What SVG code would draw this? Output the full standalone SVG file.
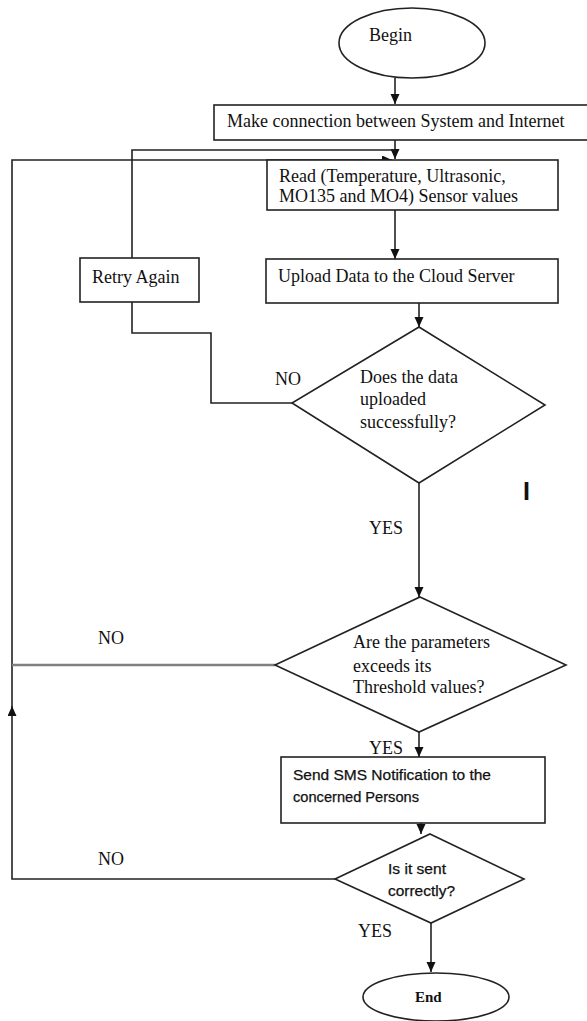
<svg xmlns="http://www.w3.org/2000/svg" width="587" height="1021" viewBox="0 0 587 1021">
<style>
.shape{fill:#fff;stroke:#222;stroke-width:1.6}
.conn{fill:none;stroke:#222;stroke-width:1.6}
.t{font-family:"Liberation Serif","Times New Roman",serif;font-size:18px;fill:#111}
.s{font-family:"Liberation Sans",Arial,sans-serif;font-size:14px;fill:#111;stroke:#111;stroke-width:0.25}
</style>
<defs>
<marker id="ah" markerUnits="userSpaceOnUse" markerWidth="10" markerHeight="10" refX="10" refY="4.5" orient="auto">
<path d="M0,0 L10,4.5 L0,9 z" fill="#111"/>
</marker>
</defs>
<rect width="587" height="1021" fill="#fff"/>
<g id="connectors">
<path class="conn" d="M395,78 V104" marker-end="url(#ah)"/>
<path class="conn" d="M395,140 V159" marker-end="url(#ah)"/>
<path class="conn" d="M132,258 V150 H395"/>
<path class="conn" d="M335,879 H12 V706" marker-end="url(#ah)"/>
<path class="conn" d="M12,708 V160 H392" marker-end="url(#ah)"/>
<path class="conn" d="M395,210 V259" marker-end="url(#ah)"/>
<path class="conn" d="M419,303 V327" marker-end="url(#ah)"/>
<path class="conn" d="M132,302 V333 H211 V403 H292"/>
<path class="conn" d="M419,483 V597" marker-end="url(#ah)"/>
<path d="M275,665 H12" fill="none" stroke="#808080" stroke-width="2.5"/>
<path class="conn" d="M419,732 V757" marker-end="url(#ah)"/>
<path class="conn" d="M421,815 V834" marker-end="url(#ah)"/>
<path class="conn" d="M431,923 V972" marker-end="url(#ah)"/>
</g>
<g id="begin">
<ellipse class="shape" cx="412" cy="43" rx="73" ry="35"/>
<text class="t" x="369" y="41">Begin</text>
</g>
<g id="connect">
<rect class="shape" x="214" y="105" width="380" height="35"/>
<text class="t" x="227" y="127">Make connection between System and Internet</text>
</g>
<g id="read">
<rect class="shape" x="267" y="160" width="291" height="50"/>
<text class="t" x="279" y="182">Read (Temperature, Ultrasonic,</text>
<text class="t" x="279" y="202">MO135 and MO4) Sensor values</text>
</g>
<g id="upload">
<rect class="shape" x="266" y="259" width="292" height="44"/>
<text class="t" x="278" y="282">Upload Data to the Cloud Server</text>
</g>
<g id="retry">
<rect class="shape" x="80" y="258" width="119" height="44"/>
<text class="t" x="92" y="283">Retry Again</text>
</g>
<g id="decision-upload">
<polygon class="shape" points="419,327 545,405 419,483 292,403"/>
<text class="t" x="360" y="383">Does the data</text>
<text class="t" x="360" y="405">uploaded</text>
<text class="t" x="360" y="428">successfully?</text>
</g>
<g id="labels">
<text class="t" x="275" y="385">NO</text>
<text class="t" x="369" y="534">YES</text>
<text class="t" x="98" y="644">NO</text>
<text class="t" x="369" y="754">YES</text>
<text class="t" x="98" y="865">NO</text>
<text class="t" x="358" y="937">YES</text>
<text x="523" y="500" font-family="Liberation Sans,Arial,sans-serif" font-weight="bold" font-size="25" fill="#111">I</text>
</g>
<g id="decision-threshold">
<polygon class="shape" points="420,597 566,665 419,732 275,665"/>
<text class="t" x="353" y="648">Are the parameters</text>
<text class="t" x="353" y="672">exceeds its</text>
<text class="t" x="353" y="693">Threshold values?</text>
</g>
<g id="sms">
<rect class="shape" x="281" y="757" width="264" height="66"/>
<text class="s" x="293" y="780" textLength="198" lengthAdjust="spacingAndGlyphs">Send SMS Notification to the</text>
<text class="s" x="293" y="802" textLength="126" lengthAdjust="spacingAndGlyphs">concerned  Persons</text>
</g>
<g id="decision-sent">
<polygon class="shape" points="430,834 524,879 431,923 335,879"/>
<text class="s" x="388" y="874" textLength="58" lengthAdjust="spacingAndGlyphs">Is it sent</text>
<text class="s" x="388" y="896" textLength="67" lengthAdjust="spacingAndGlyphs">correctly?</text>
</g>
<g id="end">
<ellipse class="shape" cx="436" cy="997" rx="73" ry="24"/>
<text x="415" y="1002" font-family="Liberation Serif,Times New Roman,serif" font-weight="bold" font-size="15" fill="#111">End</text>
</g>
</svg>
